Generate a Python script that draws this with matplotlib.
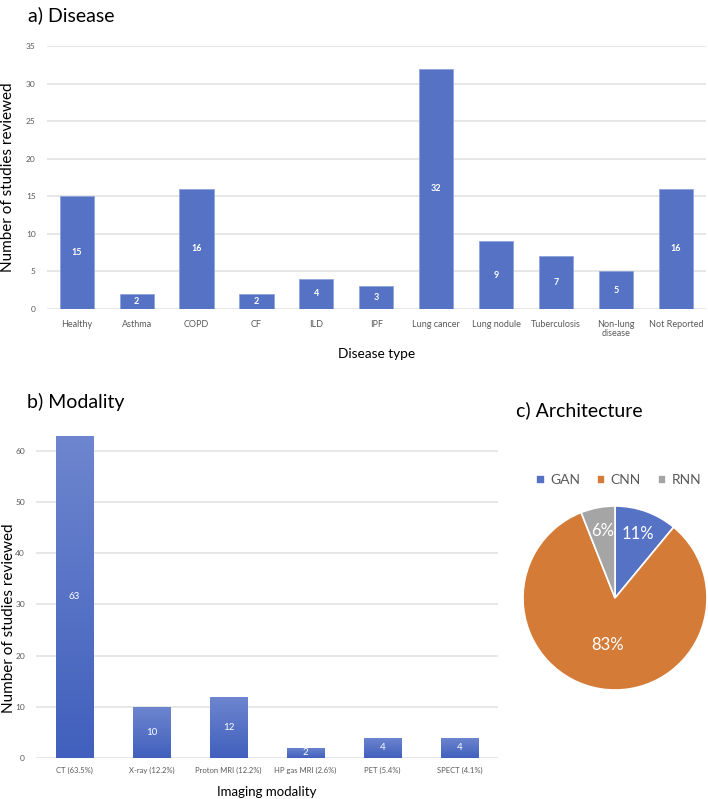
import matplotlib
matplotlib.use('Agg')
import matplotlib.pyplot as plt
import numpy as np
from matplotlib.colors import LinearSegmentedColormap

plt.rcParams['font.family'] = ['Lato', 'DejaVu Sans']

# a) disease
diseases = ['Healthy', 'Asthma', 'COPD', 'CF', 'ILD', 'IPF', 'Lung cancer',
            'Lung nodule', 'Tuberculosis', 'Non-lung\ndisease', 'Not Reported']
disease_counts = [15, 2, 16, 2, 4, 3, 32, 9, 7, 5, 16]

# b) modality
modalities = ['CT (63.5%)', 'X-ray (12.2%)', 'Proton MRI (12.2%)',
              'HP gas MRI (2.6%)', 'PET (5.4%)', 'SPECT (4.1%)']
modality_counts = [63, 10, 12, 2, 4, 4]

# c) architecture
archs = ['GAN', 'CNN', 'RNN']
arch_pct = [11, 83, 6]

blue = '#5572c5'
orange = '#d57b38'
gray = '#a5a5a5'
grid_c = '#e3e3e3'
tick_c = '#595959'

fig = plt.figure(figsize=(7.08, 7.99), dpi=100)


def style_bar_axes(ax):
    for s in ax.spines.values():
        s.set_visible(False)
    ax.yaxis.grid(True, color=grid_c, linewidth=1.2)
    ax.set_axisbelow(True)
    ax.tick_params(length=0, colors=tick_c)


# --- top chart
ax1 = fig.add_axes([0.066, 0.6133, 0.931, 0.3291])
x1 = np.arange(len(diseases))
ax1.bar(x1, disease_counts, width=0.57, color=blue, edgecolor='#8ea2dc', linewidth=0.6)
for xi, v in zip(x1, disease_counts):
    ax1.text(xi, v / 2, str(v), ha='center', va='center', color='white',
             fontsize=6.5, fontweight='bold')
ax1.set_xlim(-0.5, len(diseases) - 0.5)
ax1.set_ylim(0, 35)
ax1.set_yticks(range(0, 36, 5))
ax1.set_xticks(x1)
ax1.set_xticklabels(diseases, fontsize=6.5, linespacing=1.0, va='top')
ax1.tick_params(axis='y', labelsize=6, pad=8)
ax1.tick_params(axis='x', pad=8)
style_bar_axes(ax1)
ax1.set_xlabel('Disease type', fontsize=9.8, labelpad=7)
ax1.set_ylabel('Number of studies reviewed', fontsize=11)
ax1.yaxis.set_label_coords(-0.048, 0.5)
fig.text(0.040, 0.981, 'a) Disease', fontsize=14, va='center', ha='left')

# --- bottom bar chart
ax2 = fig.add_axes([0.051, 0.0513, 0.6525, 0.4163])
x2 = np.arange(len(modalities))
bars = ax2.bar(x2, modality_counts, width=0.49, color=blue, edgecolor='none')
cmap = LinearSegmentedColormap.from_list('grad', ['#4160bd', '#6e86cf'])
grad = np.linspace(0, 1, 256).reshape(-1, 1)
for b in bars:
    im = ax2.imshow(grad, extent=[b.get_x(), b.get_x() + b.get_width(), 0, b.get_height()],
                    origin='lower', aspect='auto', cmap=cmap, zorder=3)
    im.set_clip_path(b)
for xi, v in zip(x2, modality_counts):
    ax2.text(xi, v / 2, str(v), ha='center', va='center', color='white', fontsize=7, zorder=4)
ax2.set_xlim(-0.5, len(modalities) - 0.5)
ax2.set_ylim(0, 65)
ax2.set_yticks(range(0, 61, 10))
ax2.set_xticks(x2)
ax2.set_xticklabels(modalities, fontsize=5.5)
ax2.tick_params(axis='y', labelsize=6, pad=8)
ax2.tick_params(axis='x', pad=6)
style_bar_axes(ax2)
ax2.set_xlabel('Imaging modality', fontsize=9.5, labelpad=9)
ax2.set_ylabel('Number of studies reviewed', fontsize=11)
ax2.yaxis.set_label_coords(-0.044, 0.42)
fig.text(0.038, 0.497, 'b) Modality', fontsize=14, va='center', ha='left')

# --- pie
ax3 = fig.add_axes([0.7387, 0.1364, 0.2599, 0.2303])
wedges, texts, autotexts = ax3.pie(arch_pct, colors=[blue, orange, gray], startangle=90,
                                   counterclock=False, autopct='%d%%', pctdistance=0.74,
                                   wedgeprops=dict(edgecolor='white', linewidth=1.2),
                                   textprops=dict(color='white', fontsize=12))
# Excel puts the big slice label closer to the middle
px, py = autotexts[1].get_position()
autotexts[1].set_position((px * 0.7, py * 0.7))
ax3.set_xlim(-1, 1)
ax3.set_ylim(-1, 1)
ax3.set_aspect('equal')
ax3.legend(wedges, archs, loc='center', bbox_to_anchor=(0.52, 1.14), ncol=3,
           frameon=False, fontsize=10, handlelength=0.6, handleheight=0.6,
           handletextpad=0.4, columnspacing=1.2, labelcolor='#595959')
fig.text(0.729, 0.487, 'c) Architecture', fontsize=14, va='center', ha='left')

fig.savefig('out.png', dpi=100)
